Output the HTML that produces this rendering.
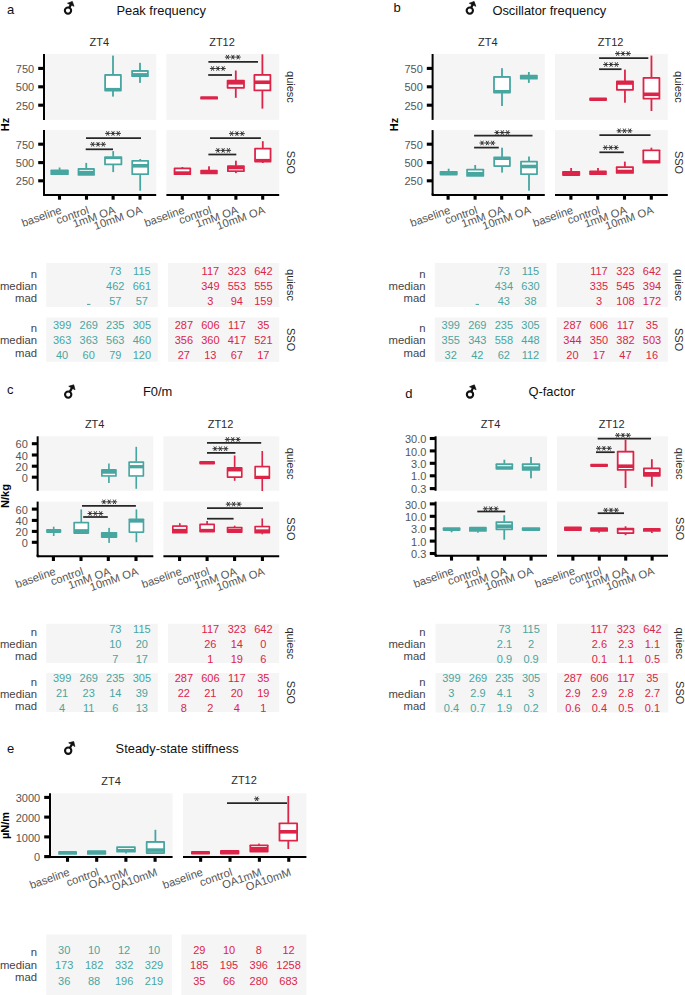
<!DOCTYPE html>
<html><head><meta charset="utf-8"><style>
html,body{margin:0;padding:0;background:#fff;}
svg{display:block;font-family:"Liberation Sans", sans-serif;}
</style></head><body>
<svg width="685" height="995" viewBox="0 0 685 995">
<rect x="0" y="0" width="685" height="995" fill="#ffffff"/>
<text x="7" y="14" font-size="13" fill="#111" text-anchor="start">a</text>
<circle cx="68" cy="10.6" r="3.15" fill="none" stroke="#111" stroke-width="2.1"/>
<line x1="69.35" y1="7.75" x2="71.1" y2="4.06" stroke="#111" stroke-width="2.3" stroke-linecap="butt"/>
<polygon points="72.34,1.44 74.01,6.33 67.5,3.24" fill="#111" stroke="#111" stroke-width="0.7" stroke-linejoin="round"/>
<text x="116.4" y="15" font-size="12.9" fill="#111" text-anchor="start">Peak frequency</text>
<text x="99.3" y="45.6" font-size="11" fill="#2b2b2b" text-anchor="middle">ZT4</text>
<text x="222" y="45.6" font-size="11" fill="#2b2b2b" text-anchor="middle">ZT12</text>
<text x="286.6" y="86.95" font-size="11" fill="#2b2b2b" text-anchor="middle" transform="rotate(90 286.6 86.95)">quiesc</text>
<text x="286.6" y="162.5" font-size="11" fill="#2b2b2b" text-anchor="middle" transform="rotate(90 286.6 162.5)">SSO</text>
<rect x="45.2" y="54" width="111" height="65.9" fill="#f5f5f5"/>
<rect x="166.4" y="54" width="112.8" height="65.9" fill="#f5f5f5"/>
<rect x="45.2" y="130.1" width="111" height="64.8" fill="#f5f5f5"/>
<rect x="166.4" y="130.1" width="112.8" height="64.8" fill="#f5f5f5"/>
<line x1="44" y1="54" x2="44" y2="119.9" stroke="#000" stroke-width="2" stroke-linecap="butt"/>
<line x1="38.2" y1="68.4" x2="44" y2="68.4" stroke="#000" stroke-width="3.1" stroke-linecap="butt"/>
<text x="34.2" y="73" font-size="11" fill="#555555" text-anchor="end">750</text>
<line x1="38.2" y1="86.8" x2="44" y2="86.8" stroke="#000" stroke-width="3.1" stroke-linecap="butt"/>
<text x="34.2" y="91.4" font-size="11" fill="#555555" text-anchor="end">500</text>
<line x1="38.2" y1="105.2" x2="44" y2="105.2" stroke="#000" stroke-width="3.1" stroke-linecap="butt"/>
<text x="34.2" y="109.8" font-size="11" fill="#555555" text-anchor="end">250</text>
<line x1="44" y1="130.1" x2="44" y2="194.4" stroke="#000" stroke-width="2" stroke-linecap="butt"/>
<line x1="44" y1="193.9" x2="44" y2="194.9" stroke="#000" stroke-width="2" stroke-linecap="round"/>
<line x1="38.2" y1="144.2" x2="44" y2="144.2" stroke="#000" stroke-width="3.1" stroke-linecap="butt"/>
<text x="34.2" y="148.8" font-size="11" fill="#555555" text-anchor="end">750</text>
<line x1="38.2" y1="162.6" x2="44" y2="162.6" stroke="#000" stroke-width="3.1" stroke-linecap="butt"/>
<text x="34.2" y="167.2" font-size="11" fill="#555555" text-anchor="end">500</text>
<line x1="38.2" y1="180.8" x2="44" y2="180.8" stroke="#000" stroke-width="3.1" stroke-linecap="butt"/>
<text x="34.2" y="185.4" font-size="11" fill="#555555" text-anchor="end">250</text>
<line x1="44.5" y1="194.9" x2="156.2" y2="194.9" stroke="#000" stroke-width="2" stroke-linecap="butt"/>
<line x1="44" y1="194.9" x2="45" y2="194.9" stroke="#000" stroke-width="2" stroke-linecap="round"/>
<line x1="59.5" y1="194.9" x2="59.5" y2="199.7" stroke="#000" stroke-width="3.1" stroke-linecap="butt"/>
<line x1="86.5" y1="194.9" x2="86.5" y2="199.7" stroke="#000" stroke-width="3.1" stroke-linecap="butt"/>
<line x1="113.1" y1="194.9" x2="113.1" y2="199.7" stroke="#000" stroke-width="3.1" stroke-linecap="butt"/>
<line x1="140" y1="194.9" x2="140" y2="199.7" stroke="#000" stroke-width="3.1" stroke-linecap="butt"/>
<text x="62.5" y="213.1" font-size="11.2" fill="#555555" text-anchor="end" transform="rotate(-19.5 62.5 213.1)">baseline</text>
<text x="89.5" y="213.1" font-size="11.2" fill="#555555" text-anchor="end" transform="rotate(-19.5 89.5 213.1)">control</text>
<text x="116.1" y="213.1" font-size="11.2" fill="#555555" text-anchor="end" transform="rotate(-19.5 116.1 213.1)">1mM OA</text>
<text x="143" y="213.1" font-size="11.2" fill="#555555" text-anchor="end" transform="rotate(-19.5 143 213.1)">10mM OA</text>
<line x1="166.4" y1="194.9" x2="279.2" y2="194.9" stroke="#000" stroke-width="2" stroke-linecap="butt"/>
<line x1="182.3" y1="194.9" x2="182.3" y2="199.7" stroke="#000" stroke-width="3.1" stroke-linecap="butt"/>
<line x1="209.1" y1="194.9" x2="209.1" y2="199.7" stroke="#000" stroke-width="3.1" stroke-linecap="butt"/>
<line x1="235.9" y1="194.9" x2="235.9" y2="199.7" stroke="#000" stroke-width="3.1" stroke-linecap="butt"/>
<line x1="262.7" y1="194.9" x2="262.7" y2="199.7" stroke="#000" stroke-width="3.1" stroke-linecap="butt"/>
<text x="185.3" y="213.1" font-size="11.2" fill="#555555" text-anchor="end" transform="rotate(-19.5 185.3 213.1)">baseline</text>
<text x="212.1" y="213.1" font-size="11.2" fill="#555555" text-anchor="end" transform="rotate(-19.5 212.1 213.1)">control</text>
<text x="238.9" y="213.1" font-size="11.2" fill="#555555" text-anchor="end" transform="rotate(-19.5 238.9 213.1)">1mM OA</text>
<text x="265.7" y="213.1" font-size="11.2" fill="#555555" text-anchor="end" transform="rotate(-19.5 265.7 213.1)">10mM OA</text>
<text x="8.9" y="124.5" font-size="11" fill="#000" text-anchor="middle" font-weight="bold" transform="rotate(-90 8.9 124.5)">Hz</text>
<rect x="112.1" y="55.6" width="1.8" height="19" fill="#48a6a1"/>
<rect x="112.1" y="91" width="1.8" height="5.6" fill="#48a6a1"/>
<rect x="104.2" y="74.1" width="17.6" height="17.4" rx="0.9" fill="#48a6a1"/>
<rect x="106" y="75.9" width="14" height="12" fill="#ffffff"/>
<rect x="139.1" y="62.8" width="1.8" height="7.8" fill="#48a6a1"/>
<rect x="139.1" y="76.6" width="1.8" height="6.3" fill="#48a6a1"/>
<rect x="131.2" y="70.1" width="17.6" height="7" rx="0.9" fill="#48a6a1"/>
<rect x="133" y="71.9" width="14" height="1.2" fill="#ffffff"/>
<rect x="200.2" y="96.2" width="17.8" height="3.4" rx="0.9" fill="#dc2449"/>
<rect x="234.9" y="70.5" width="1.8" height="9.8" fill="#dc2449"/>
<rect x="234.9" y="88.2" width="1.8" height="9.6" fill="#dc2449"/>
<rect x="226.7" y="79.8" width="18.2" height="8.9" rx="0.9" fill="#dc2449"/>
<rect x="228.5" y="84.6" width="14.6" height="2.3" fill="#ffffff"/>
<rect x="261.5" y="54.3" width="1.8" height="20.2" fill="#dc2449"/>
<rect x="261.5" y="90.8" width="1.8" height="17.8" fill="#dc2449"/>
<rect x="253.5" y="74" width="17.8" height="17.3" rx="0.9" fill="#dc2449"/>
<rect x="255.3" y="75.8" width="14.2" height="4.65" fill="#ffffff"/>
<rect x="255.3" y="84.05" width="14.2" height="5.45" fill="#ffffff"/>
<rect x="58.7" y="167.5" width="1.8" height="2.4" fill="#48a6a1"/>
<rect x="50.4" y="169.4" width="18.4" height="5.7" rx="0.9" fill="#48a6a1"/>
<rect x="85.35" y="162.9" width="1.8" height="5.7" fill="#48a6a1"/>
<rect x="77.6" y="168.1" width="17.3" height="7.7" rx="0.9" fill="#48a6a1"/>
<rect x="79.4" y="169.9" width="13.7" height="0.9" fill="#ffffff"/>
<rect x="112.3" y="151.1" width="1.8" height="5.6" fill="#48a6a1"/>
<rect x="112.3" y="164.8" width="1.8" height="7.3" fill="#48a6a1"/>
<rect x="104.1" y="156.2" width="18.2" height="9.1" rx="0.9" fill="#48a6a1"/>
<rect x="105.9" y="159.1" width="14.6" height="4.4" fill="#ffffff"/>
<rect x="139.3" y="159" width="1.8" height="1.4" fill="#48a6a1"/>
<rect x="139.3" y="174.6" width="1.8" height="16.1" fill="#48a6a1"/>
<rect x="131.35" y="159.9" width="17.7" height="15.2" rx="0.9" fill="#48a6a1"/>
<rect x="133.15" y="161.7" width="14.1" height="2.3" fill="#ffffff"/>
<rect x="133.15" y="167.6" width="14.1" height="5.7" fill="#ffffff"/>
<rect x="181.5" y="167" width="1.8" height="1" fill="#dc2449"/>
<rect x="173.65" y="167.5" width="17.5" height="7.6" rx="0.9" fill="#dc2449"/>
<rect x="175.45" y="169.3" width="13.9" height="2" fill="#ffffff"/>
<rect x="208.1" y="166.3" width="1.8" height="3.9" fill="#dc2449"/>
<rect x="200.25" y="169.7" width="17.5" height="4.6" rx="0.9" fill="#dc2449"/>
<rect x="235" y="160.7" width="1.8" height="5.1" fill="#dc2449"/>
<rect x="235" y="171.6" width="1.8" height="1.5" fill="#dc2449"/>
<rect x="227" y="165.3" width="17.8" height="6.8" rx="0.9" fill="#dc2449"/>
<rect x="228.8" y="169.3" width="14.2" height="1" fill="#ffffff"/>
<rect x="261.9" y="141.2" width="1.8" height="7" fill="#dc2449"/>
<rect x="261.9" y="161.9" width="1.8" height="1.1" fill="#dc2449"/>
<rect x="254.15" y="147.7" width="17.3" height="14.7" rx="0.9" fill="#dc2449"/>
<rect x="255.95" y="149.5" width="13.7" height="9.4" fill="#ffffff"/>
<line x1="208.4" y1="61.8" x2="258" y2="61.8" stroke="#262626" stroke-width="1.75" stroke-linecap="butt"/>
<path d="M224.95 57.1L230.15 57.1M226.25 54.85L228.85 59.35M228.85 54.85L226.25 59.35" stroke="#2e2e2e" stroke-width="0.95" fill="none"/>
<path d="M230.25 57.1L235.45 57.1M231.55 54.85L234.15 59.35M234.15 54.85L231.55 59.35" stroke="#2e2e2e" stroke-width="0.95" fill="none"/>
<path d="M235.55 57.1L240.75 57.1M236.85 54.85L239.45 59.35M239.45 54.85L236.85 59.35" stroke="#2e2e2e" stroke-width="0.95" fill="none"/>
<line x1="208.2" y1="75" x2="232" y2="75" stroke="#262626" stroke-width="1.75" stroke-linecap="butt"/>
<path d="M209.95 68.5L215.15 68.5M211.25 66.25L213.85 70.75M213.85 66.25L211.25 70.75" stroke="#2e2e2e" stroke-width="0.95" fill="none"/>
<path d="M215.25 68.5L220.45 68.5M216.55 66.25L219.15 70.75M219.15 66.25L216.55 70.75" stroke="#2e2e2e" stroke-width="0.95" fill="none"/>
<path d="M220.55 68.5L225.75 68.5M221.85 66.25L224.45 70.75M224.45 66.25L221.85 70.75" stroke="#2e2e2e" stroke-width="0.95" fill="none"/>
<line x1="86" y1="138.1" x2="141" y2="138.1" stroke="#262626" stroke-width="1.75" stroke-linecap="butt"/>
<path d="M105.1 133.45L110.3 133.45M106.4 131.2L109 135.7M109 131.2L106.4 135.7" stroke="#2e2e2e" stroke-width="0.95" fill="none"/>
<path d="M110.4 133.45L115.6 133.45M111.7 131.2L114.3 135.7M114.3 131.2L111.7 135.7" stroke="#2e2e2e" stroke-width="0.95" fill="none"/>
<path d="M115.7 133.45L120.9 133.45M117 131.2L119.6 135.7M119.6 131.2L117 135.7" stroke="#2e2e2e" stroke-width="0.95" fill="none"/>
<line x1="85.7" y1="149.3" x2="113" y2="149.3" stroke="#262626" stroke-width="1.75" stroke-linecap="butt"/>
<path d="M90.1 144.3L95.3 144.3M91.4 142.05L94 146.55M94 142.05L91.4 146.55" stroke="#2e2e2e" stroke-width="0.95" fill="none"/>
<path d="M95.4 144.3L100.6 144.3M96.7 142.05L99.3 146.55M99.3 142.05L96.7 146.55" stroke="#2e2e2e" stroke-width="0.95" fill="none"/>
<path d="M100.7 144.3L105.9 144.3M102 142.05L104.6 146.55M104.6 142.05L102 146.55" stroke="#2e2e2e" stroke-width="0.95" fill="none"/>
<line x1="210" y1="138.2" x2="260.9" y2="138.2" stroke="#262626" stroke-width="1.75" stroke-linecap="butt"/>
<path d="M229 133.6L234.2 133.6M230.3 131.35L232.9 135.85M232.9 131.35L230.3 135.85" stroke="#2e2e2e" stroke-width="0.95" fill="none"/>
<path d="M234.3 133.6L239.5 133.6M235.6 131.35L238.2 135.85M238.2 131.35L235.6 135.85" stroke="#2e2e2e" stroke-width="0.95" fill="none"/>
<path d="M239.6 133.6L244.8 133.6M240.9 131.35L243.5 135.85M243.5 131.35L240.9 135.85" stroke="#2e2e2e" stroke-width="0.95" fill="none"/>
<line x1="208.4" y1="154.5" x2="236.3" y2="154.5" stroke="#262626" stroke-width="1.75" stroke-linecap="butt"/>
<path d="M215.25 150.4L220.45 150.4M216.55 148.15L219.15 152.65M219.15 148.15L216.55 152.65" stroke="#2e2e2e" stroke-width="0.95" fill="none"/>
<path d="M220.55 150.4L225.75 150.4M221.85 148.15L224.45 152.65M224.45 148.15L221.85 152.65" stroke="#2e2e2e" stroke-width="0.95" fill="none"/>
<path d="M225.85 150.4L231.05 150.4M227.15 148.15L229.75 152.65M229.75 148.15L227.15 152.65" stroke="#2e2e2e" stroke-width="0.95" fill="none"/>
<rect x="46.2" y="263" width="111.6" height="44" fill="#f5f5f5"/>
<rect x="168" y="263" width="111.25" height="44" fill="#f5f5f5"/>
<rect x="46.2" y="317.5" width="111.6" height="44.25" fill="#f5f5f5"/>
<rect x="168" y="317.5" width="111.25" height="44.25" fill="#f5f5f5"/>
<text x="37" y="277.5" font-size="11.3" fill="#444" text-anchor="end">n</text>
<text x="37" y="289.8" font-size="11.3" fill="#444" text-anchor="end">median</text>
<text x="37" y="301.6" font-size="11.3" fill="#444" text-anchor="end">mad</text>
<text x="37" y="332" font-size="11.3" fill="#444" text-anchor="end">n</text>
<text x="37" y="344.3" font-size="11.3" fill="#444" text-anchor="end">median</text>
<text x="37" y="356.6" font-size="11.3" fill="#444" text-anchor="end">mad</text>
<text x="115.29" y="274.5" font-size="11" fill="#48a6a1" text-anchor="middle">73</text>
<text x="141.86" y="274.5" font-size="11" fill="#48a6a1" text-anchor="middle">115</text>
<text x="115.29" y="289.5" font-size="11" fill="#48a6a1" text-anchor="middle">462</text>
<text x="141.86" y="289.5" font-size="11" fill="#48a6a1" text-anchor="middle">661</text>
<text x="115.29" y="304.5" font-size="11" fill="#48a6a1" text-anchor="middle">57</text>
<text x="141.86" y="304.5" font-size="11" fill="#48a6a1" text-anchor="middle">57</text>
<text x="62.14" y="329" font-size="11" fill="#48a6a1" text-anchor="middle">399</text>
<text x="88.71" y="329" font-size="11" fill="#48a6a1" text-anchor="middle">269</text>
<text x="115.29" y="329" font-size="11" fill="#48a6a1" text-anchor="middle">235</text>
<text x="141.86" y="329" font-size="11" fill="#48a6a1" text-anchor="middle">305</text>
<text x="62.14" y="344" font-size="11" fill="#48a6a1" text-anchor="middle">363</text>
<text x="88.71" y="344" font-size="11" fill="#48a6a1" text-anchor="middle">363</text>
<text x="115.29" y="344" font-size="11" fill="#48a6a1" text-anchor="middle">563</text>
<text x="141.86" y="344" font-size="11" fill="#48a6a1" text-anchor="middle">460</text>
<text x="62.14" y="359" font-size="11" fill="#48a6a1" text-anchor="middle">40</text>
<text x="88.71" y="359" font-size="11" fill="#48a6a1" text-anchor="middle">60</text>
<text x="115.29" y="359" font-size="11" fill="#48a6a1" text-anchor="middle">79</text>
<text x="141.86" y="359" font-size="11" fill="#48a6a1" text-anchor="middle">120</text>
<text x="210.38" y="274.5" font-size="11" fill="#dc2449" text-anchor="middle">117</text>
<text x="236.87" y="274.5" font-size="11" fill="#dc2449" text-anchor="middle">323</text>
<text x="263.36" y="274.5" font-size="11" fill="#dc2449" text-anchor="middle">642</text>
<text x="210.38" y="289.5" font-size="11" fill="#dc2449" text-anchor="middle">349</text>
<text x="236.87" y="289.5" font-size="11" fill="#dc2449" text-anchor="middle">553</text>
<text x="263.36" y="289.5" font-size="11" fill="#dc2449" text-anchor="middle">555</text>
<text x="210.38" y="304.5" font-size="11" fill="#dc2449" text-anchor="middle">3</text>
<text x="236.87" y="304.5" font-size="11" fill="#dc2449" text-anchor="middle">94</text>
<text x="263.36" y="304.5" font-size="11" fill="#dc2449" text-anchor="middle">159</text>
<text x="183.89" y="329" font-size="11" fill="#dc2449" text-anchor="middle">287</text>
<text x="210.38" y="329" font-size="11" fill="#dc2449" text-anchor="middle">606</text>
<text x="236.87" y="329" font-size="11" fill="#dc2449" text-anchor="middle">117</text>
<text x="263.36" y="329" font-size="11" fill="#dc2449" text-anchor="middle">35</text>
<text x="183.89" y="344" font-size="11" fill="#dc2449" text-anchor="middle">356</text>
<text x="210.38" y="344" font-size="11" fill="#dc2449" text-anchor="middle">360</text>
<text x="236.87" y="344" font-size="11" fill="#dc2449" text-anchor="middle">417</text>
<text x="263.36" y="344" font-size="11" fill="#dc2449" text-anchor="middle">521</text>
<text x="183.89" y="359" font-size="11" fill="#dc2449" text-anchor="middle">27</text>
<text x="210.38" y="359" font-size="11" fill="#dc2449" text-anchor="middle">13</text>
<text x="236.87" y="359" font-size="11" fill="#dc2449" text-anchor="middle">67</text>
<text x="263.36" y="359" font-size="11" fill="#dc2449" text-anchor="middle">17</text>
<text x="286.6" y="285" font-size="11" fill="#2b2b2b" text-anchor="middle" transform="rotate(90 286.6 285)">quiesc</text>
<text x="286.6" y="339.62" font-size="11" fill="#2b2b2b" text-anchor="middle" transform="rotate(90 286.6 339.62)">SSO</text>
<rect x="87.01" y="303.9" width="3.4" height="1" fill="#48a6a1"/>
<text x="393.4" y="12.3" font-size="13" fill="#111" text-anchor="start">b</text>
<circle cx="469.8" cy="10.6" r="3.15" fill="none" stroke="#111" stroke-width="2.1"/>
<line x1="471.15" y1="7.75" x2="472.9" y2="4.06" stroke="#111" stroke-width="2.3" stroke-linecap="butt"/>
<polygon points="474.14,1.44 475.81,6.33 469.3,3.24" fill="#111" stroke="#111" stroke-width="0.7" stroke-linejoin="round"/>
<text x="492.4" y="15" font-size="12.9" fill="#111" text-anchor="start">Oscillator frequency</text>
<text x="487.9" y="45.6" font-size="11" fill="#2b2b2b" text-anchor="middle">ZT4</text>
<text x="610.6" y="45.6" font-size="11" fill="#2b2b2b" text-anchor="middle">ZT12</text>
<text x="675.2" y="86.95" font-size="11" fill="#2b2b2b" text-anchor="middle" transform="rotate(90 675.2 86.95)">quiesc</text>
<text x="675.2" y="162.5" font-size="11" fill="#2b2b2b" text-anchor="middle" transform="rotate(90 675.2 162.5)">SSO</text>
<rect x="433.8" y="54" width="111" height="65.9" fill="#f5f5f5"/>
<rect x="555" y="54" width="112.8" height="65.9" fill="#f5f5f5"/>
<rect x="433.8" y="130.1" width="111" height="64.8" fill="#f5f5f5"/>
<rect x="555" y="130.1" width="112.8" height="64.8" fill="#f5f5f5"/>
<line x1="432.6" y1="54" x2="432.6" y2="119.9" stroke="#000" stroke-width="2" stroke-linecap="butt"/>
<line x1="426.8" y1="68.4" x2="432.6" y2="68.4" stroke="#000" stroke-width="3.1" stroke-linecap="butt"/>
<text x="422.8" y="73" font-size="11" fill="#555555" text-anchor="end">750</text>
<line x1="426.8" y1="86.8" x2="432.6" y2="86.8" stroke="#000" stroke-width="3.1" stroke-linecap="butt"/>
<text x="422.8" y="91.4" font-size="11" fill="#555555" text-anchor="end">500</text>
<line x1="426.8" y1="105.2" x2="432.6" y2="105.2" stroke="#000" stroke-width="3.1" stroke-linecap="butt"/>
<text x="422.8" y="109.8" font-size="11" fill="#555555" text-anchor="end">250</text>
<line x1="432.6" y1="130.1" x2="432.6" y2="194.4" stroke="#000" stroke-width="2" stroke-linecap="butt"/>
<line x1="432.6" y1="193.9" x2="432.6" y2="194.9" stroke="#000" stroke-width="2" stroke-linecap="round"/>
<line x1="426.8" y1="144.2" x2="432.6" y2="144.2" stroke="#000" stroke-width="3.1" stroke-linecap="butt"/>
<text x="422.8" y="148.8" font-size="11" fill="#555555" text-anchor="end">750</text>
<line x1="426.8" y1="162.6" x2="432.6" y2="162.6" stroke="#000" stroke-width="3.1" stroke-linecap="butt"/>
<text x="422.8" y="167.2" font-size="11" fill="#555555" text-anchor="end">500</text>
<line x1="426.8" y1="180.8" x2="432.6" y2="180.8" stroke="#000" stroke-width="3.1" stroke-linecap="butt"/>
<text x="422.8" y="185.4" font-size="11" fill="#555555" text-anchor="end">250</text>
<line x1="433.1" y1="194.9" x2="544.8" y2="194.9" stroke="#000" stroke-width="2" stroke-linecap="butt"/>
<line x1="432.6" y1="194.9" x2="433.6" y2="194.9" stroke="#000" stroke-width="2" stroke-linecap="round"/>
<line x1="448.1" y1="194.9" x2="448.1" y2="199.7" stroke="#000" stroke-width="3.1" stroke-linecap="butt"/>
<line x1="475.1" y1="194.9" x2="475.1" y2="199.7" stroke="#000" stroke-width="3.1" stroke-linecap="butt"/>
<line x1="501.7" y1="194.9" x2="501.7" y2="199.7" stroke="#000" stroke-width="3.1" stroke-linecap="butt"/>
<line x1="528.6" y1="194.9" x2="528.6" y2="199.7" stroke="#000" stroke-width="3.1" stroke-linecap="butt"/>
<text x="451.1" y="213.1" font-size="11.2" fill="#555555" text-anchor="end" transform="rotate(-19.5 451.1 213.1)">baseline</text>
<text x="478.1" y="213.1" font-size="11.2" fill="#555555" text-anchor="end" transform="rotate(-19.5 478.1 213.1)">control</text>
<text x="504.7" y="213.1" font-size="11.2" fill="#555555" text-anchor="end" transform="rotate(-19.5 504.7 213.1)">1mM OA</text>
<text x="531.6" y="213.1" font-size="11.2" fill="#555555" text-anchor="end" transform="rotate(-19.5 531.6 213.1)">10mM OA</text>
<line x1="555" y1="194.9" x2="667.8" y2="194.9" stroke="#000" stroke-width="2" stroke-linecap="butt"/>
<line x1="570.9" y1="194.9" x2="570.9" y2="199.7" stroke="#000" stroke-width="3.1" stroke-linecap="butt"/>
<line x1="597.7" y1="194.9" x2="597.7" y2="199.7" stroke="#000" stroke-width="3.1" stroke-linecap="butt"/>
<line x1="624.5" y1="194.9" x2="624.5" y2="199.7" stroke="#000" stroke-width="3.1" stroke-linecap="butt"/>
<line x1="651.3" y1="194.9" x2="651.3" y2="199.7" stroke="#000" stroke-width="3.1" stroke-linecap="butt"/>
<text x="573.9" y="213.1" font-size="11.2" fill="#555555" text-anchor="end" transform="rotate(-19.5 573.9 213.1)">baseline</text>
<text x="600.7" y="213.1" font-size="11.2" fill="#555555" text-anchor="end" transform="rotate(-19.5 600.7 213.1)">control</text>
<text x="627.5" y="213.1" font-size="11.2" fill="#555555" text-anchor="end" transform="rotate(-19.5 627.5 213.1)">1mM OA</text>
<text x="654.3" y="213.1" font-size="11.2" fill="#555555" text-anchor="end" transform="rotate(-19.5 654.3 213.1)">10mM OA</text>
<text x="397.5" y="124.5" font-size="11" fill="#000" text-anchor="middle" font-weight="bold" transform="rotate(-90 397.5 124.5)">Hz</text>
<rect x="501.1" y="68.2" width="1.8" height="8.4" fill="#48a6a1"/>
<rect x="501.1" y="92.9" width="1.8" height="13.1" fill="#48a6a1"/>
<rect x="493.1" y="76.1" width="17.8" height="17.3" rx="0.9" fill="#48a6a1"/>
<rect x="494.9" y="77.9" width="14.2" height="12.1" fill="#ffffff"/>
<rect x="527.95" y="72" width="1.8" height="3.2" fill="#48a6a1"/>
<rect x="527.95" y="79.1" width="1.8" height="3.8" fill="#48a6a1"/>
<rect x="519.9" y="74.7" width="17.9" height="4.9" rx="0.9" fill="#48a6a1"/>
<rect x="589.2" y="97.5" width="17.8" height="3.4" rx="0.9" fill="#dc2449"/>
<rect x="624.05" y="69.6" width="1.8" height="11.3" fill="#dc2449"/>
<rect x="624.05" y="90.2" width="1.8" height="12.5" fill="#dc2449"/>
<rect x="616" y="80.4" width="17.9" height="10.3" rx="0.9" fill="#dc2449"/>
<rect x="617.8" y="84.8" width="14.3" height="4.1" fill="#ffffff"/>
<rect x="650.55" y="55.6" width="1.8" height="21.9" fill="#dc2449"/>
<rect x="650.55" y="99.1" width="1.8" height="11.9" fill="#dc2449"/>
<rect x="642.6" y="77" width="17.7" height="22.6" rx="0.9" fill="#dc2449"/>
<rect x="644.4" y="78.8" width="14.1" height="13.7" fill="#ffffff"/>
<rect x="644.4" y="96.1" width="14.1" height="1.7" fill="#ffffff"/>
<rect x="447.75" y="168.7" width="1.8" height="2.7" fill="#48a6a1"/>
<rect x="439.6" y="170.9" width="18.1" height="4.6" rx="0.9" fill="#48a6a1"/>
<rect x="474.3" y="165" width="1.8" height="4.2" fill="#48a6a1"/>
<rect x="466.2" y="168.7" width="18" height="8.1" rx="0.9" fill="#48a6a1"/>
<rect x="468" y="170.5" width="14.4" height="1.5" fill="#ffffff"/>
<rect x="501.15" y="147.7" width="1.8" height="9.3" fill="#48a6a1"/>
<rect x="501.15" y="166.5" width="1.8" height="6.1" fill="#48a6a1"/>
<rect x="493.3" y="156.5" width="17.5" height="10.5" rx="0.9" fill="#48a6a1"/>
<rect x="495.1" y="160" width="13.9" height="5.2" fill="#ffffff"/>
<rect x="528.1" y="156.5" width="1.8" height="4.7" fill="#48a6a1"/>
<rect x="528.1" y="174.6" width="1.8" height="16.1" fill="#48a6a1"/>
<rect x="520.1" y="160.7" width="17.8" height="14.4" rx="0.9" fill="#48a6a1"/>
<rect x="521.9" y="162.5" width="14.2" height="2.2" fill="#ffffff"/>
<rect x="521.9" y="168.3" width="14.2" height="5" fill="#ffffff"/>
<rect x="570.25" y="168" width="1.8" height="3.4" fill="#dc2449"/>
<rect x="562.1" y="170.9" width="18.1" height="5.1" rx="0.9" fill="#dc2449"/>
<rect x="597.1" y="168" width="1.8" height="2.9" fill="#dc2449"/>
<rect x="589.2" y="170.4" width="17.6" height="4.7" rx="0.9" fill="#dc2449"/>
<rect x="623.95" y="161.6" width="1.8" height="5.2" fill="#dc2449"/>
<rect x="615.8" y="166.3" width="18.1" height="7.5" rx="0.9" fill="#dc2449"/>
<rect x="617.6" y="168.1" width="14.5" height="1.6" fill="#ffffff"/>
<rect x="650.5" y="147.7" width="1.8" height="2.2" fill="#dc2449"/>
<rect x="642.4" y="149.4" width="18" height="14.2" rx="0.9" fill="#dc2449"/>
<rect x="644.2" y="151.2" width="14.4" height="8.9" fill="#ffffff"/>
<line x1="599.1" y1="58.1" x2="648.3" y2="58.1" stroke="#262626" stroke-width="1.75" stroke-linecap="butt"/>
<path d="M615.05 53.55L620.25 53.55M616.35 51.3L618.95 55.8M618.95 51.3L616.35 55.8" stroke="#2e2e2e" stroke-width="0.95" fill="none"/>
<path d="M620.35 53.55L625.55 53.55M621.65 51.3L624.25 55.8M624.25 51.3L621.65 55.8" stroke="#2e2e2e" stroke-width="0.95" fill="none"/>
<path d="M625.65 53.55L630.85 53.55M626.95 51.3L629.55 55.8M629.55 51.3L626.95 55.8" stroke="#2e2e2e" stroke-width="0.95" fill="none"/>
<line x1="599.1" y1="69.2" x2="621.5" y2="69.2" stroke="#262626" stroke-width="1.75" stroke-linecap="butt"/>
<path d="M603.2 64.5L608.4 64.5M604.5 62.25L607.1 66.75M607.1 62.25L604.5 66.75" stroke="#2e2e2e" stroke-width="0.95" fill="none"/>
<path d="M608.5 64.5L613.7 64.5M609.8 62.25L612.4 66.75M612.4 62.25L609.8 66.75" stroke="#2e2e2e" stroke-width="0.95" fill="none"/>
<path d="M613.8 64.5L619 64.5M615.1 62.25L617.7 66.75M617.7 62.25L615.1 66.75" stroke="#2e2e2e" stroke-width="0.95" fill="none"/>
<line x1="474.1" y1="135.7" x2="532.5" y2="135.7" stroke="#262626" stroke-width="1.75" stroke-linecap="butt"/>
<path d="M494.4 132.55L499.6 132.55M495.7 130.3L498.3 134.8M498.3 130.3L495.7 134.8" stroke="#2e2e2e" stroke-width="0.95" fill="none"/>
<path d="M499.7 132.55L504.9 132.55M501 130.3L503.6 134.8M503.6 130.3L501 134.8" stroke="#2e2e2e" stroke-width="0.95" fill="none"/>
<path d="M505 132.55L510.2 132.55M506.3 130.3L508.9 134.8M508.9 130.3L506.3 134.8" stroke="#2e2e2e" stroke-width="0.95" fill="none"/>
<line x1="474.1" y1="147.6" x2="498.8" y2="147.6" stroke="#262626" stroke-width="1.75" stroke-linecap="butt"/>
<path d="M479.45 143L484.65 143M480.75 140.75L483.35 145.25M483.35 140.75L480.75 145.25" stroke="#2e2e2e" stroke-width="0.95" fill="none"/>
<path d="M484.75 143L489.95 143M486.05 140.75L488.65 145.25M488.65 140.75L486.05 145.25" stroke="#2e2e2e" stroke-width="0.95" fill="none"/>
<path d="M490.05 143L495.25 143M491.35 140.75L493.95 145.25M493.95 140.75L491.35 145.25" stroke="#2e2e2e" stroke-width="0.95" fill="none"/>
<line x1="599.4" y1="135.2" x2="650.5" y2="135.2" stroke="#262626" stroke-width="1.75" stroke-linecap="butt"/>
<path d="M616.55 130.8L621.75 130.8M617.85 128.55L620.45 133.05M620.45 128.55L617.85 133.05" stroke="#2e2e2e" stroke-width="0.95" fill="none"/>
<path d="M621.85 130.8L627.05 130.8M623.15 128.55L625.75 133.05M625.75 128.55L623.15 133.05" stroke="#2e2e2e" stroke-width="0.95" fill="none"/>
<path d="M627.15 130.8L632.35 130.8M628.45 128.55L631.05 133.05M631.05 128.55L628.45 133.05" stroke="#2e2e2e" stroke-width="0.95" fill="none"/>
<line x1="599.4" y1="152.3" x2="623.8" y2="152.3" stroke="#262626" stroke-width="1.75" stroke-linecap="butt"/>
<path d="M602.85 147.6L608.05 147.6M604.15 145.35L606.75 149.85M606.75 145.35L604.15 149.85" stroke="#2e2e2e" stroke-width="0.95" fill="none"/>
<path d="M608.15 147.6L613.35 147.6M609.45 145.35L612.05 149.85M612.05 145.35L609.45 149.85" stroke="#2e2e2e" stroke-width="0.95" fill="none"/>
<path d="M613.45 147.6L618.65 147.6M614.75 145.35L617.35 149.85M617.35 145.35L614.75 149.85" stroke="#2e2e2e" stroke-width="0.95" fill="none"/>
<rect x="434.8" y="263" width="111.6" height="44" fill="#f5f5f5"/>
<rect x="556.6" y="263" width="111.25" height="44" fill="#f5f5f5"/>
<rect x="434.8" y="317.5" width="111.6" height="44.25" fill="#f5f5f5"/>
<rect x="556.6" y="317.5" width="111.25" height="44.25" fill="#f5f5f5"/>
<text x="425.6" y="277.5" font-size="11.3" fill="#444" text-anchor="end">n</text>
<text x="425.6" y="289.8" font-size="11.3" fill="#444" text-anchor="end">median</text>
<text x="425.6" y="301.6" font-size="11.3" fill="#444" text-anchor="end">mad</text>
<text x="425.6" y="332" font-size="11.3" fill="#444" text-anchor="end">n</text>
<text x="425.6" y="344.3" font-size="11.3" fill="#444" text-anchor="end">median</text>
<text x="425.6" y="356.6" font-size="11.3" fill="#444" text-anchor="end">mad</text>
<text x="503.89" y="274.5" font-size="11" fill="#48a6a1" text-anchor="middle">73</text>
<text x="530.46" y="274.5" font-size="11" fill="#48a6a1" text-anchor="middle">115</text>
<text x="503.89" y="289.5" font-size="11" fill="#48a6a1" text-anchor="middle">434</text>
<text x="530.46" y="289.5" font-size="11" fill="#48a6a1" text-anchor="middle">630</text>
<text x="503.89" y="304.5" font-size="11" fill="#48a6a1" text-anchor="middle">43</text>
<text x="530.46" y="304.5" font-size="11" fill="#48a6a1" text-anchor="middle">38</text>
<text x="450.74" y="329" font-size="11" fill="#48a6a1" text-anchor="middle">399</text>
<text x="477.31" y="329" font-size="11" fill="#48a6a1" text-anchor="middle">269</text>
<text x="503.89" y="329" font-size="11" fill="#48a6a1" text-anchor="middle">235</text>
<text x="530.46" y="329" font-size="11" fill="#48a6a1" text-anchor="middle">305</text>
<text x="450.74" y="344" font-size="11" fill="#48a6a1" text-anchor="middle">355</text>
<text x="477.31" y="344" font-size="11" fill="#48a6a1" text-anchor="middle">343</text>
<text x="503.89" y="344" font-size="11" fill="#48a6a1" text-anchor="middle">558</text>
<text x="530.46" y="344" font-size="11" fill="#48a6a1" text-anchor="middle">448</text>
<text x="450.74" y="359" font-size="11" fill="#48a6a1" text-anchor="middle">32</text>
<text x="477.31" y="359" font-size="11" fill="#48a6a1" text-anchor="middle">42</text>
<text x="503.89" y="359" font-size="11" fill="#48a6a1" text-anchor="middle">62</text>
<text x="530.46" y="359" font-size="11" fill="#48a6a1" text-anchor="middle">112</text>
<text x="598.98" y="274.5" font-size="11" fill="#dc2449" text-anchor="middle">117</text>
<text x="625.47" y="274.5" font-size="11" fill="#dc2449" text-anchor="middle">323</text>
<text x="651.96" y="274.5" font-size="11" fill="#dc2449" text-anchor="middle">642</text>
<text x="598.98" y="289.5" font-size="11" fill="#dc2449" text-anchor="middle">335</text>
<text x="625.47" y="289.5" font-size="11" fill="#dc2449" text-anchor="middle">545</text>
<text x="651.96" y="289.5" font-size="11" fill="#dc2449" text-anchor="middle">394</text>
<text x="598.98" y="304.5" font-size="11" fill="#dc2449" text-anchor="middle">3</text>
<text x="625.47" y="304.5" font-size="11" fill="#dc2449" text-anchor="middle">108</text>
<text x="651.96" y="304.5" font-size="11" fill="#dc2449" text-anchor="middle">172</text>
<text x="572.49" y="329" font-size="11" fill="#dc2449" text-anchor="middle">287</text>
<text x="598.98" y="329" font-size="11" fill="#dc2449" text-anchor="middle">606</text>
<text x="625.47" y="329" font-size="11" fill="#dc2449" text-anchor="middle">117</text>
<text x="651.96" y="329" font-size="11" fill="#dc2449" text-anchor="middle">35</text>
<text x="572.49" y="344" font-size="11" fill="#dc2449" text-anchor="middle">344</text>
<text x="598.98" y="344" font-size="11" fill="#dc2449" text-anchor="middle">350</text>
<text x="625.47" y="344" font-size="11" fill="#dc2449" text-anchor="middle">382</text>
<text x="651.96" y="344" font-size="11" fill="#dc2449" text-anchor="middle">503</text>
<text x="572.49" y="359" font-size="11" fill="#dc2449" text-anchor="middle">20</text>
<text x="598.98" y="359" font-size="11" fill="#dc2449" text-anchor="middle">17</text>
<text x="625.47" y="359" font-size="11" fill="#dc2449" text-anchor="middle">47</text>
<text x="651.96" y="359" font-size="11" fill="#dc2449" text-anchor="middle">16</text>
<text x="675.2" y="285" font-size="11" fill="#2b2b2b" text-anchor="middle" transform="rotate(90 675.2 285)">quiesc</text>
<text x="675.2" y="339.62" font-size="11" fill="#2b2b2b" text-anchor="middle" transform="rotate(90 675.2 339.62)">SSO</text>
<rect x="475.61" y="303.9" width="3.4" height="1" fill="#48a6a1"/>
<text x="7" y="393.9" font-size="13" fill="#111" text-anchor="start">c</text>
<circle cx="68.2" cy="394.6" r="3.15" fill="none" stroke="#111" stroke-width="2.1"/>
<line x1="69.75" y1="391.86" x2="72.28" y2="387.35" stroke="#111" stroke-width="2.3" stroke-linecap="butt"/>
<polygon points="73.71,384.82 75.03,389.81 68.75,386.28" fill="#111" stroke="#111" stroke-width="0.7" stroke-linejoin="round"/>
<text x="143" y="396.2" font-size="12.9" fill="#111" text-anchor="start">F0/m</text>
<text x="94.68" y="428" font-size="11" fill="#2b2b2b" text-anchor="middle">ZT4</text>
<text x="220.5" y="428" font-size="11" fill="#2b2b2b" text-anchor="middle">ZT12</text>
<text x="286.6" y="463.55" font-size="11" fill="#2b2b2b" text-anchor="middle" transform="rotate(90 286.6 463.55)">quiesc</text>
<text x="286.6" y="528.9" font-size="11" fill="#2b2b2b" text-anchor="middle" transform="rotate(90 286.6 528.9)">SSO</text>
<rect x="38.85" y="436.3" width="114.45" height="54.5" fill="#f5f5f5"/>
<rect x="163.4" y="436.3" width="115.8" height="54.5" fill="#f5f5f5"/>
<rect x="38.85" y="501.6" width="114.45" height="54.6" fill="#f5f5f5"/>
<rect x="163.4" y="501.6" width="115.8" height="54.6" fill="#f5f5f5"/>
<line x1="37.65" y1="436.3" x2="37.65" y2="490.8" stroke="#000" stroke-width="2" stroke-linecap="butt"/>
<line x1="31.85" y1="443.7" x2="37.65" y2="443.7" stroke="#000" stroke-width="3.1" stroke-linecap="butt"/>
<text x="27.8" y="448.3" font-size="11" fill="#555555" text-anchor="end">60</text>
<line x1="31.85" y1="455" x2="37.65" y2="455" stroke="#000" stroke-width="3.1" stroke-linecap="butt"/>
<text x="27.8" y="459.6" font-size="11" fill="#555555" text-anchor="end">40</text>
<line x1="31.85" y1="466.2" x2="37.65" y2="466.2" stroke="#000" stroke-width="3.1" stroke-linecap="butt"/>
<text x="27.8" y="470.8" font-size="11" fill="#555555" text-anchor="end">20</text>
<line x1="31.85" y1="477.2" x2="37.65" y2="477.2" stroke="#000" stroke-width="3.1" stroke-linecap="butt"/>
<text x="27.8" y="481.8" font-size="11" fill="#555555" text-anchor="end">0</text>
<line x1="37.65" y1="501.6" x2="37.65" y2="555.7" stroke="#000" stroke-width="2" stroke-linecap="butt"/>
<line x1="37.65" y1="555.2" x2="37.65" y2="556.2" stroke="#000" stroke-width="2" stroke-linecap="round"/>
<line x1="31.85" y1="509.1" x2="37.65" y2="509.1" stroke="#000" stroke-width="3.1" stroke-linecap="butt"/>
<text x="27.8" y="513.7" font-size="11" fill="#555555" text-anchor="end">60</text>
<line x1="31.85" y1="520.4" x2="37.65" y2="520.4" stroke="#000" stroke-width="3.1" stroke-linecap="butt"/>
<text x="27.8" y="525" font-size="11" fill="#555555" text-anchor="end">40</text>
<line x1="31.85" y1="531.4" x2="37.65" y2="531.4" stroke="#000" stroke-width="3.1" stroke-linecap="butt"/>
<text x="27.8" y="536" font-size="11" fill="#555555" text-anchor="end">20</text>
<line x1="31.85" y1="542.3" x2="37.65" y2="542.3" stroke="#000" stroke-width="3.1" stroke-linecap="butt"/>
<text x="27.8" y="546.9" font-size="11" fill="#555555" text-anchor="end">0</text>
<line x1="38.15" y1="556.2" x2="153.3" y2="556.2" stroke="#000" stroke-width="2" stroke-linecap="butt"/>
<line x1="37.65" y1="556.2" x2="38.65" y2="556.2" stroke="#000" stroke-width="2" stroke-linecap="round"/>
<line x1="53.4" y1="556.2" x2="53.4" y2="561" stroke="#000" stroke-width="3.1" stroke-linecap="butt"/>
<line x1="81" y1="556.2" x2="81" y2="561" stroke="#000" stroke-width="3.1" stroke-linecap="butt"/>
<line x1="108.3" y1="556.2" x2="108.3" y2="561" stroke="#000" stroke-width="3.1" stroke-linecap="butt"/>
<line x1="136" y1="556.2" x2="136" y2="561" stroke="#000" stroke-width="3.1" stroke-linecap="butt"/>
<text x="56.4" y="574.4" font-size="11.2" fill="#555555" text-anchor="end" transform="rotate(-19.5 56.4 574.4)">baseline</text>
<text x="84" y="574.4" font-size="11.2" fill="#555555" text-anchor="end" transform="rotate(-19.5 84 574.4)">control</text>
<text x="111.3" y="574.4" font-size="11.2" fill="#555555" text-anchor="end" transform="rotate(-19.5 111.3 574.4)">1mM OA</text>
<text x="139" y="574.4" font-size="11.2" fill="#555555" text-anchor="end" transform="rotate(-19.5 139 574.4)">10mM OA</text>
<line x1="163.4" y1="556.2" x2="279.2" y2="556.2" stroke="#000" stroke-width="2" stroke-linecap="butt"/>
<line x1="179.6" y1="556.2" x2="179.6" y2="561" stroke="#000" stroke-width="3.1" stroke-linecap="butt"/>
<line x1="207.1" y1="556.2" x2="207.1" y2="561" stroke="#000" stroke-width="3.1" stroke-linecap="butt"/>
<line x1="234.6" y1="556.2" x2="234.6" y2="561" stroke="#000" stroke-width="3.1" stroke-linecap="butt"/>
<line x1="262.4" y1="556.2" x2="262.4" y2="561" stroke="#000" stroke-width="3.1" stroke-linecap="butt"/>
<text x="182.6" y="574.4" font-size="11.2" fill="#555555" text-anchor="end" transform="rotate(-19.5 182.6 574.4)">baseline</text>
<text x="210.1" y="574.4" font-size="11.2" fill="#555555" text-anchor="end" transform="rotate(-19.5 210.1 574.4)">control</text>
<text x="237.6" y="574.4" font-size="11.2" fill="#555555" text-anchor="end" transform="rotate(-19.5 237.6 574.4)">1mM OA</text>
<text x="265.4" y="574.4" font-size="11.2" fill="#555555" text-anchor="end" transform="rotate(-19.5 265.4 574.4)">10mM OA</text>
<text x="8.9" y="496" font-size="11" fill="#000" text-anchor="middle" font-weight="bold" transform="rotate(-90 8.9 496)">N/kg</text>
<rect x="108.08" y="463.5" width="1.65" height="5.9" fill="#48a6a1"/>
<rect x="108.08" y="476.3" width="1.65" height="6.7" fill="#48a6a1"/>
<rect x="101" y="468.9" width="15.8" height="7.9" rx="0.9" fill="#48a6a1"/>
<rect x="102.65" y="473.75" width="12.5" height="1.4" fill="#ffffff"/>
<rect x="135.43" y="446.8" width="1.65" height="15" fill="#48a6a1"/>
<rect x="135.43" y="476.3" width="1.65" height="12.5" fill="#48a6a1"/>
<rect x="128.3" y="461.3" width="15.9" height="15.5" rx="0.9" fill="#48a6a1"/>
<rect x="129.95" y="462.95" width="12.6" height="2.1" fill="#ffffff"/>
<rect x="129.95" y="468.35" width="12.6" height="6.8" fill="#ffffff"/>
<rect x="199.2" y="461" width="15.8" height="3.5" rx="0.9" fill="#dc2449"/>
<rect x="233.83" y="455.5" width="1.65" height="12" fill="#dc2449"/>
<rect x="233.83" y="477.4" width="1.65" height="3.4" fill="#dc2449"/>
<rect x="226.7" y="467" width="15.9" height="10.9" rx="0.9" fill="#dc2449"/>
<rect x="228.35" y="471.45" width="12.6" height="4.8" fill="#ffffff"/>
<rect x="261.43" y="451" width="1.65" height="15.3" fill="#dc2449"/>
<rect x="261.43" y="478.6" width="1.65" height="12.4" fill="#dc2449"/>
<rect x="254.3" y="465.8" width="15.9" height="13.3" rx="0.9" fill="#dc2449"/>
<rect x="255.95" y="467.45" width="12.6" height="8.3" fill="#ffffff"/>
<rect x="52.88" y="526.7" width="1.65" height="2.9" fill="#48a6a1"/>
<rect x="52.88" y="532.5" width="1.65" height="3.5" fill="#48a6a1"/>
<rect x="46.1" y="529.1" width="15.2" height="3.9" rx="0.9" fill="#48a6a1"/>
<rect x="80.42" y="509.4" width="1.65" height="12.9" fill="#48a6a1"/>
<rect x="73.3" y="521.8" width="15.9" height="12.1" rx="0.9" fill="#48a6a1"/>
<rect x="74.95" y="523.45" width="12.6" height="5.7" fill="#ffffff"/>
<rect x="108.27" y="527.9" width="1.65" height="4.5" fill="#48a6a1"/>
<rect x="108.27" y="537.4" width="1.65" height="5.5" fill="#48a6a1"/>
<rect x="100.9" y="531.9" width="16.4" height="6" rx="0.9" fill="#48a6a1"/>
<rect x="135.58" y="509.4" width="1.65" height="9.5" fill="#48a6a1"/>
<rect x="135.58" y="532.5" width="1.65" height="9.7" fill="#48a6a1"/>
<rect x="128.5" y="518.4" width="15.8" height="14.6" rx="0.9" fill="#48a6a1"/>
<rect x="130.15" y="522.65" width="12.5" height="8.7" fill="#ffffff"/>
<rect x="178.98" y="523.2" width="1.65" height="2.6" fill="#dc2449"/>
<rect x="172" y="525.3" width="15.6" height="8.3" rx="0.9" fill="#dc2449"/>
<rect x="173.65" y="526.95" width="12.3" height="1.9" fill="#ffffff"/>
<rect x="206.28" y="521" width="1.65" height="3.1" fill="#dc2449"/>
<rect x="199.2" y="523.6" width="15.8" height="8.9" rx="0.9" fill="#dc2449"/>
<rect x="200.85" y="525.25" width="12.5" height="3.6" fill="#ffffff"/>
<rect x="233.83" y="525.7" width="1.65" height="1.5" fill="#dc2449"/>
<rect x="226.7" y="526.7" width="15.9" height="6.3" rx="0.9" fill="#dc2449"/>
<rect x="228.35" y="528.35" width="12.6" height="0.5" fill="#ffffff"/>
<rect x="261.43" y="518.4" width="1.65" height="7.8" fill="#dc2449"/>
<rect x="261.43" y="533.1" width="1.65" height="1.2" fill="#dc2449"/>
<rect x="254.3" y="525.7" width="15.9" height="7.9" rx="0.9" fill="#dc2449"/>
<rect x="255.95" y="527.35" width="12.6" height="2" fill="#ffffff"/>
<line x1="207" y1="442.9" x2="261.2" y2="442.9" stroke="#262626" stroke-width="1.75" stroke-linecap="butt"/>
<path d="M224.85 439.45L230.05 439.45M226.15 437.2L228.75 441.7M228.75 437.2L226.15 441.7" stroke="#2e2e2e" stroke-width="0.95" fill="none"/>
<path d="M230.15 439.45L235.35 439.45M231.45 437.2L234.05 441.7M234.05 437.2L231.45 441.7" stroke="#2e2e2e" stroke-width="0.95" fill="none"/>
<path d="M235.45 439.45L240.65 439.45M236.75 437.2L239.35 441.7M239.35 437.2L236.75 441.7" stroke="#2e2e2e" stroke-width="0.95" fill="none"/>
<line x1="207" y1="452.9" x2="235.4" y2="452.9" stroke="#262626" stroke-width="1.75" stroke-linecap="butt"/>
<path d="M212.5 448.7L217.7 448.7M213.8 446.45L216.4 450.95M216.4 446.45L213.8 450.95" stroke="#2e2e2e" stroke-width="0.95" fill="none"/>
<path d="M217.8 448.7L223 448.7M219.1 446.45L221.7 450.95M221.7 446.45L219.1 450.95" stroke="#2e2e2e" stroke-width="0.95" fill="none"/>
<path d="M223.1 448.7L228.3 448.7M224.4 446.45L227 450.95M227 446.45L224.4 450.95" stroke="#2e2e2e" stroke-width="0.95" fill="none"/>
<line x1="82" y1="505.8" x2="135.9" y2="505.8" stroke="#262626" stroke-width="1.75" stroke-linecap="butt"/>
<path d="M101.3 501.85L106.5 501.85M102.6 499.6L105.2 504.1M105.2 499.6L102.6 504.1" stroke="#2e2e2e" stroke-width="0.95" fill="none"/>
<path d="M106.6 501.85L111.8 501.85M107.9 499.6L110.5 504.1M110.5 499.6L107.9 504.1" stroke="#2e2e2e" stroke-width="0.95" fill="none"/>
<path d="M111.9 501.85L117.1 501.85M113.2 499.6L115.8 504.1M115.8 499.6L113.2 504.1" stroke="#2e2e2e" stroke-width="0.95" fill="none"/>
<line x1="83.2" y1="517" x2="107.8" y2="517" stroke="#262626" stroke-width="1.75" stroke-linecap="butt"/>
<path d="M87.5 513.5L92.7 513.5M88.8 511.25L91.4 515.75M91.4 511.25L88.8 515.75" stroke="#2e2e2e" stroke-width="0.95" fill="none"/>
<path d="M92.8 513.5L98 513.5M94.1 511.25L96.7 515.75M96.7 511.25L94.1 515.75" stroke="#2e2e2e" stroke-width="0.95" fill="none"/>
<path d="M98.1 513.5L103.3 513.5M99.4 511.25L102 515.75M102 511.25L99.4 515.75" stroke="#2e2e2e" stroke-width="0.95" fill="none"/>
<line x1="207" y1="508.1" x2="263" y2="508.1" stroke="#262626" stroke-width="1.75" stroke-linecap="butt"/>
<path d="M225.75 504.15L230.95 504.15M227.05 501.9L229.65 506.4M229.65 501.9L227.05 506.4" stroke="#2e2e2e" stroke-width="0.95" fill="none"/>
<path d="M231.05 504.15L236.25 504.15M232.35 501.9L234.95 506.4M234.95 501.9L232.35 506.4" stroke="#2e2e2e" stroke-width="0.95" fill="none"/>
<path d="M236.35 504.15L241.55 504.15M237.65 501.9L240.25 506.4M240.25 501.9L237.65 506.4" stroke="#2e2e2e" stroke-width="0.95" fill="none"/>
<line x1="207" y1="518.7" x2="233.6" y2="518.7" stroke="#262626" stroke-width="1.75" stroke-linecap="butt"/>
<rect x="46.2" y="623.75" width="111.6" height="39.25" fill="#f5f5f5"/>
<rect x="168" y="623.75" width="111.25" height="39.25" fill="#f5f5f5"/>
<rect x="46.2" y="673" width="111.6" height="39" fill="#f5f5f5"/>
<rect x="168" y="673" width="111.25" height="39" fill="#f5f5f5"/>
<text x="37" y="636.2" font-size="11.3" fill="#444" text-anchor="end">n</text>
<text x="37" y="648.4" font-size="11.3" fill="#444" text-anchor="end">median</text>
<text x="37" y="660.4" font-size="11.3" fill="#444" text-anchor="end">mad</text>
<text x="37" y="685.5" font-size="11.3" fill="#444" text-anchor="end">n</text>
<text x="37" y="697.8" font-size="11.3" fill="#444" text-anchor="end">median</text>
<text x="37" y="709.8" font-size="11.3" fill="#444" text-anchor="end">mad</text>
<text x="115.29" y="633" font-size="11" fill="#48a6a1" text-anchor="middle">73</text>
<text x="141.86" y="633" font-size="11" fill="#48a6a1" text-anchor="middle">115</text>
<text x="115.29" y="648" font-size="11" fill="#48a6a1" text-anchor="middle">10</text>
<text x="141.86" y="648" font-size="11" fill="#48a6a1" text-anchor="middle">20</text>
<text x="115.29" y="663" font-size="11" fill="#48a6a1" text-anchor="middle">7</text>
<text x="141.86" y="663" font-size="11" fill="#48a6a1" text-anchor="middle">17</text>
<text x="62.14" y="682" font-size="11" fill="#48a6a1" text-anchor="middle">399</text>
<text x="88.71" y="682" font-size="11" fill="#48a6a1" text-anchor="middle">269</text>
<text x="115.29" y="682" font-size="11" fill="#48a6a1" text-anchor="middle">235</text>
<text x="141.86" y="682" font-size="11" fill="#48a6a1" text-anchor="middle">305</text>
<text x="62.14" y="697" font-size="11" fill="#48a6a1" text-anchor="middle">21</text>
<text x="88.71" y="697" font-size="11" fill="#48a6a1" text-anchor="middle">23</text>
<text x="115.29" y="697" font-size="11" fill="#48a6a1" text-anchor="middle">14</text>
<text x="141.86" y="697" font-size="11" fill="#48a6a1" text-anchor="middle">39</text>
<text x="62.14" y="712" font-size="11" fill="#48a6a1" text-anchor="middle">4</text>
<text x="88.71" y="712" font-size="11" fill="#48a6a1" text-anchor="middle">11</text>
<text x="115.29" y="712" font-size="11" fill="#48a6a1" text-anchor="middle">6</text>
<text x="141.86" y="712" font-size="11" fill="#48a6a1" text-anchor="middle">13</text>
<text x="210.38" y="633" font-size="11" fill="#dc2449" text-anchor="middle">117</text>
<text x="236.87" y="633" font-size="11" fill="#dc2449" text-anchor="middle">323</text>
<text x="263.36" y="633" font-size="11" fill="#dc2449" text-anchor="middle">642</text>
<text x="210.38" y="648" font-size="11" fill="#dc2449" text-anchor="middle">26</text>
<text x="236.87" y="648" font-size="11" fill="#dc2449" text-anchor="middle">14</text>
<text x="263.36" y="648" font-size="11" fill="#dc2449" text-anchor="middle">0</text>
<text x="210.38" y="663" font-size="11" fill="#dc2449" text-anchor="middle">1</text>
<text x="236.87" y="663" font-size="11" fill="#dc2449" text-anchor="middle">19</text>
<text x="263.36" y="663" font-size="11" fill="#dc2449" text-anchor="middle">6</text>
<text x="183.89" y="682" font-size="11" fill="#dc2449" text-anchor="middle">287</text>
<text x="210.38" y="682" font-size="11" fill="#dc2449" text-anchor="middle">606</text>
<text x="236.87" y="682" font-size="11" fill="#dc2449" text-anchor="middle">117</text>
<text x="263.36" y="682" font-size="11" fill="#dc2449" text-anchor="middle">35</text>
<text x="183.89" y="697" font-size="11" fill="#dc2449" text-anchor="middle">22</text>
<text x="210.38" y="697" font-size="11" fill="#dc2449" text-anchor="middle">21</text>
<text x="236.87" y="697" font-size="11" fill="#dc2449" text-anchor="middle">20</text>
<text x="263.36" y="697" font-size="11" fill="#dc2449" text-anchor="middle">19</text>
<text x="183.89" y="712" font-size="11" fill="#dc2449" text-anchor="middle">8</text>
<text x="210.38" y="712" font-size="11" fill="#dc2449" text-anchor="middle">2</text>
<text x="236.87" y="712" font-size="11" fill="#dc2449" text-anchor="middle">4</text>
<text x="263.36" y="712" font-size="11" fill="#dc2449" text-anchor="middle">1</text>
<text x="286.6" y="643.38" font-size="11" fill="#2b2b2b" text-anchor="middle" transform="rotate(90 286.6 643.38)">quiesc</text>
<text x="286.6" y="692.5" font-size="11" fill="#2b2b2b" text-anchor="middle" transform="rotate(90 286.6 692.5)">SSO</text>
<text x="405.2" y="397.8" font-size="13" fill="#111" text-anchor="start">d</text>
<circle cx="470" cy="394.5" r="3.15" fill="none" stroke="#111" stroke-width="2.1"/>
<line x1="471.29" y1="391.63" x2="473.16" y2="387.49" stroke="#111" stroke-width="2.3" stroke-linecap="butt"/>
<polygon points="474.35,384.85 476.11,389.7 469.55,386.74" fill="#111" stroke="#111" stroke-width="0.7" stroke-linejoin="round"/>
<text x="528.4" y="396.2" font-size="12.9" fill="#111" text-anchor="start">Q-factor</text>
<text x="490.5" y="428" font-size="11" fill="#2b2b2b" text-anchor="middle">ZT4</text>
<text x="611.7" y="428" font-size="11" fill="#2b2b2b" text-anchor="middle">ZT12</text>
<text x="676.3" y="463.55" font-size="11" fill="#2b2b2b" text-anchor="middle" transform="rotate(90 676.3 463.55)">quiesc</text>
<text x="676.3" y="528.7" font-size="11" fill="#2b2b2b" text-anchor="middle" transform="rotate(90 676.3 528.7)">SSO</text>
<rect x="436.8" y="436.3" width="110.2" height="54.5" fill="#f5f5f5"/>
<rect x="557" y="436.3" width="111" height="54.5" fill="#f5f5f5"/>
<rect x="436.8" y="501.6" width="110.2" height="54.2" fill="#f5f5f5"/>
<rect x="557" y="501.6" width="111" height="54.2" fill="#f5f5f5"/>
<line x1="435.6" y1="436.3" x2="435.6" y2="490.8" stroke="#000" stroke-width="2" stroke-linecap="butt"/>
<line x1="429.8" y1="438.5" x2="435.6" y2="438.5" stroke="#000" stroke-width="3.1" stroke-linecap="butt"/>
<text x="426.4" y="443.1" font-size="11" fill="#555555" text-anchor="end">30.0</text>
<line x1="429.8" y1="450.9" x2="435.6" y2="450.9" stroke="#000" stroke-width="3.1" stroke-linecap="butt"/>
<text x="426.4" y="455.5" font-size="11" fill="#555555" text-anchor="end">10.0</text>
<line x1="429.8" y1="463.3" x2="435.6" y2="463.3" stroke="#000" stroke-width="3.1" stroke-linecap="butt"/>
<text x="426.4" y="467.9" font-size="11" fill="#555555" text-anchor="end">3.0</text>
<line x1="429.8" y1="475.8" x2="435.6" y2="475.8" stroke="#000" stroke-width="3.1" stroke-linecap="butt"/>
<text x="426.4" y="480.4" font-size="11" fill="#555555" text-anchor="end">1.0</text>
<line x1="429.8" y1="488.6" x2="435.6" y2="488.6" stroke="#000" stroke-width="3.1" stroke-linecap="butt"/>
<text x="426.4" y="493.2" font-size="11" fill="#555555" text-anchor="end">0.3</text>
<line x1="435.6" y1="501.6" x2="435.6" y2="555.3" stroke="#000" stroke-width="2" stroke-linecap="butt"/>
<line x1="435.6" y1="554.8" x2="435.6" y2="555.8" stroke="#000" stroke-width="2" stroke-linecap="round"/>
<line x1="429.8" y1="503.9" x2="435.6" y2="503.9" stroke="#000" stroke-width="3.1" stroke-linecap="butt"/>
<text x="426.4" y="508.5" font-size="11" fill="#555555" text-anchor="end">30.0</text>
<line x1="429.8" y1="516.3" x2="435.6" y2="516.3" stroke="#000" stroke-width="3.1" stroke-linecap="butt"/>
<text x="426.4" y="520.9" font-size="11" fill="#555555" text-anchor="end">10.0</text>
<line x1="429.8" y1="528.7" x2="435.6" y2="528.7" stroke="#000" stroke-width="3.1" stroke-linecap="butt"/>
<text x="426.4" y="533.3" font-size="11" fill="#555555" text-anchor="end">3.0</text>
<line x1="429.8" y1="541.1" x2="435.6" y2="541.1" stroke="#000" stroke-width="3.1" stroke-linecap="butt"/>
<text x="426.4" y="545.7" font-size="11" fill="#555555" text-anchor="end">1.0</text>
<line x1="429.8" y1="553.5" x2="435.6" y2="553.5" stroke="#000" stroke-width="3.1" stroke-linecap="butt"/>
<text x="426.4" y="558.1" font-size="11" fill="#555555" text-anchor="end">0.3</text>
<line x1="436.1" y1="555.8" x2="547" y2="555.8" stroke="#000" stroke-width="2" stroke-linecap="butt"/>
<line x1="435.6" y1="555.8" x2="436.6" y2="555.8" stroke="#000" stroke-width="2" stroke-linecap="round"/>
<line x1="451.51" y1="555.8" x2="451.51" y2="560.6" stroke="#000" stroke-width="3.1" stroke-linecap="butt"/>
<line x1="478.04" y1="555.8" x2="478.04" y2="560.6" stroke="#000" stroke-width="3.1" stroke-linecap="butt"/>
<line x1="504.56" y1="555.8" x2="504.56" y2="560.6" stroke="#000" stroke-width="3.1" stroke-linecap="butt"/>
<line x1="531.09" y1="555.8" x2="531.09" y2="560.6" stroke="#000" stroke-width="3.1" stroke-linecap="butt"/>
<text x="454.51" y="574" font-size="11.2" fill="#555555" text-anchor="end" transform="rotate(-19.5 454.51 574)">baseline</text>
<text x="481.04" y="574" font-size="11.2" fill="#555555" text-anchor="end" transform="rotate(-19.5 481.04 574)">control</text>
<text x="507.56" y="574" font-size="11.2" fill="#555555" text-anchor="end" transform="rotate(-19.5 507.56 574)">1mM OA</text>
<text x="534.09" y="574" font-size="11.2" fill="#555555" text-anchor="end" transform="rotate(-19.5 534.09 574)">10mM OA</text>
<line x1="557" y1="555.8" x2="668" y2="555.8" stroke="#000" stroke-width="2" stroke-linecap="butt"/>
<line x1="572.86" y1="555.8" x2="572.86" y2="560.6" stroke="#000" stroke-width="3.1" stroke-linecap="butt"/>
<line x1="599.29" y1="555.8" x2="599.29" y2="560.6" stroke="#000" stroke-width="3.1" stroke-linecap="butt"/>
<line x1="625.71" y1="555.8" x2="625.71" y2="560.6" stroke="#000" stroke-width="3.1" stroke-linecap="butt"/>
<line x1="652.14" y1="555.8" x2="652.14" y2="560.6" stroke="#000" stroke-width="3.1" stroke-linecap="butt"/>
<text x="575.86" y="574" font-size="11.2" fill="#555555" text-anchor="end" transform="rotate(-19.5 575.86 574)">baseline</text>
<text x="602.29" y="574" font-size="11.2" fill="#555555" text-anchor="end" transform="rotate(-19.5 602.29 574)">control</text>
<text x="628.71" y="574" font-size="11.2" fill="#555555" text-anchor="end" transform="rotate(-19.5 628.71 574)">1mM OA</text>
<text x="655.14" y="574" font-size="11.2" fill="#555555" text-anchor="end" transform="rotate(-19.5 655.14 574)">10mM OA</text>
<rect x="503.45" y="459.7" width="1.8" height="4.1" fill="#48a6a1"/>
<rect x="495.5" y="463.3" width="17.7" height="6.4" rx="0.9" fill="#48a6a1"/>
<rect x="497.3" y="465.1" width="14.1" height="1.1" fill="#ffffff"/>
<rect x="530.1" y="457" width="1.8" height="6.8" fill="#48a6a1"/>
<rect x="530.1" y="470.3" width="1.8" height="8" fill="#48a6a1"/>
<rect x="521.8" y="463.3" width="18.4" height="7.5" rx="0.9" fill="#48a6a1"/>
<rect x="523.6" y="465.1" width="14.8" height="1.2" fill="#ffffff"/>
<rect x="590.2" y="463.8" width="17.8" height="3.2" rx="0.9" fill="#dc2449"/>
<rect x="624.65" y="439.7" width="1.8" height="11.6" fill="#dc2449"/>
<rect x="624.65" y="470.3" width="1.8" height="17.7" fill="#dc2449"/>
<rect x="616.8" y="450.8" width="17.5" height="20" rx="0.9" fill="#dc2449"/>
<rect x="618.6" y="452.6" width="13.9" height="11.8" fill="#ffffff"/>
<rect x="618.6" y="468" width="13.9" height="1" fill="#ffffff"/>
<rect x="650.95" y="459.2" width="1.8" height="8.8" fill="#dc2449"/>
<rect x="650.95" y="476.2" width="1.8" height="10.5" fill="#dc2449"/>
<rect x="643" y="467.5" width="17.7" height="9.2" rx="0.9" fill="#dc2449"/>
<rect x="644.8" y="469.3" width="14.1" height="2.7" fill="#ffffff"/>
<rect x="450.7" y="530.5" width="1.8" height="1.8" fill="#48a6a1"/>
<rect x="442.7" y="527.3" width="17.8" height="3.7" rx="0.9" fill="#48a6a1"/>
<rect x="477" y="531.3" width="1.8" height="1.4" fill="#48a6a1"/>
<rect x="469" y="526.8" width="17.8" height="5" rx="0.9" fill="#48a6a1"/>
<rect x="503.35" y="515.2" width="1.8" height="6.6" fill="#48a6a1"/>
<rect x="503.35" y="529.7" width="1.8" height="10" fill="#48a6a1"/>
<rect x="495.5" y="521.3" width="17.5" height="8.9" rx="0.9" fill="#48a6a1"/>
<rect x="497.3" y="523.1" width="13.9" height="1.3" fill="#ffffff"/>
<rect x="497.3" y="528" width="13.9" height="0.4" fill="#ffffff"/>
<rect x="521.8" y="527.3" width="18.4" height="3.7" rx="0.9" fill="#48a6a1"/>
<rect x="564" y="526.5" width="17.8" height="4.5" rx="0.9" fill="#dc2449"/>
<rect x="598.15" y="531.3" width="1.8" height="1.4" fill="#dc2449"/>
<rect x="590.1" y="527.3" width="17.9" height="4.5" rx="0.9" fill="#dc2449"/>
<rect x="624.65" y="526.3" width="1.8" height="1.9" fill="#dc2449"/>
<rect x="624.65" y="533.5" width="1.8" height="1.7" fill="#dc2449"/>
<rect x="616.8" y="527.7" width="17.5" height="6.3" rx="0.9" fill="#dc2449"/>
<rect x="618.6" y="530.3" width="13.9" height="1.9" fill="#ffffff"/>
<rect x="650.95" y="531.3" width="1.8" height="1.7" fill="#dc2449"/>
<rect x="643" y="528" width="17.7" height="3.8" rx="0.9" fill="#dc2449"/>
<line x1="597.7" y1="438.7" x2="651" y2="438.7" stroke="#262626" stroke-width="1.75" stroke-linecap="butt"/>
<path d="M615.05 435.25L620.25 435.25M616.35 433L618.95 437.5M618.95 433L616.35 437.5" stroke="#2e2e2e" stroke-width="0.95" fill="none"/>
<path d="M620.35 435.25L625.55 435.25M621.65 433L624.25 437.5M624.25 433L621.65 437.5" stroke="#2e2e2e" stroke-width="0.95" fill="none"/>
<path d="M625.65 435.25L630.85 435.25M626.95 433L629.55 437.5M629.55 433L626.95 437.5" stroke="#2e2e2e" stroke-width="0.95" fill="none"/>
<line x1="596" y1="452.2" x2="614.7" y2="452.2" stroke="#262626" stroke-width="1.75" stroke-linecap="butt"/>
<path d="M596 448.3L601.2 448.3M597.3 446.05L599.9 450.55M599.9 446.05L597.3 450.55" stroke="#2e2e2e" stroke-width="0.95" fill="none"/>
<path d="M601.3 448.3L606.5 448.3M602.6 446.05L605.2 450.55M605.2 446.05L602.6 450.55" stroke="#2e2e2e" stroke-width="0.95" fill="none"/>
<path d="M606.6 448.3L611.8 448.3M607.9 446.05L610.5 450.55M610.5 446.05L607.9 450.55" stroke="#2e2e2e" stroke-width="0.95" fill="none"/>
<line x1="477.3" y1="511.5" x2="505.2" y2="511.5" stroke="#262626" stroke-width="1.75" stroke-linecap="butt"/>
<path d="M482.85 508.75L488.05 508.75M484.15 506.5L486.75 511M486.75 506.5L484.15 511" stroke="#2e2e2e" stroke-width="0.95" fill="none"/>
<path d="M488.15 508.75L493.35 508.75M489.45 506.5L492.05 511M492.05 506.5L489.45 511" stroke="#2e2e2e" stroke-width="0.95" fill="none"/>
<path d="M493.45 508.75L498.65 508.75M494.75 506.5L497.35 511M497.35 506.5L494.75 511" stroke="#2e2e2e" stroke-width="0.95" fill="none"/>
<line x1="597.7" y1="513.2" x2="624" y2="513.2" stroke="#262626" stroke-width="1.75" stroke-linecap="butt"/>
<path d="M603.1 510.15L608.3 510.15M604.4 507.9L607 512.4M607 507.9L604.4 512.4" stroke="#2e2e2e" stroke-width="0.95" fill="none"/>
<path d="M608.4 510.15L613.6 510.15M609.7 507.9L612.3 512.4M612.3 507.9L609.7 512.4" stroke="#2e2e2e" stroke-width="0.95" fill="none"/>
<path d="M613.7 510.15L618.9 510.15M615 507.9L617.6 512.4M617.6 507.9L615 512.4" stroke="#2e2e2e" stroke-width="0.95" fill="none"/>
<rect x="435.5" y="623.75" width="111.5" height="39.25" fill="#f5f5f5"/>
<rect x="557" y="623.75" width="111.25" height="39.25" fill="#f5f5f5"/>
<rect x="435.5" y="673" width="111.5" height="39.5" fill="#f5f5f5"/>
<rect x="557" y="673" width="111.25" height="39.5" fill="#f5f5f5"/>
<text x="425.5" y="636.2" font-size="11.3" fill="#444" text-anchor="end">n</text>
<text x="425.5" y="648.4" font-size="11.3" fill="#444" text-anchor="end">median</text>
<text x="425.5" y="660.4" font-size="11.3" fill="#444" text-anchor="end">mad</text>
<text x="425.5" y="685.5" font-size="11.3" fill="#444" text-anchor="end">n</text>
<text x="425.5" y="697.8" font-size="11.3" fill="#444" text-anchor="end">median</text>
<text x="425.5" y="709.8" font-size="11.3" fill="#444" text-anchor="end">mad</text>
<text x="504.52" y="633" font-size="11" fill="#48a6a1" text-anchor="middle">73</text>
<text x="531.07" y="633" font-size="11" fill="#48a6a1" text-anchor="middle">115</text>
<text x="504.52" y="648" font-size="11" fill="#48a6a1" text-anchor="middle">2.1</text>
<text x="531.07" y="648" font-size="11" fill="#48a6a1" text-anchor="middle">2</text>
<text x="504.52" y="663" font-size="11" fill="#48a6a1" text-anchor="middle">0.9</text>
<text x="531.07" y="663" font-size="11" fill="#48a6a1" text-anchor="middle">0.9</text>
<text x="451.43" y="682" font-size="11" fill="#48a6a1" text-anchor="middle">399</text>
<text x="477.98" y="682" font-size="11" fill="#48a6a1" text-anchor="middle">269</text>
<text x="504.52" y="682" font-size="11" fill="#48a6a1" text-anchor="middle">235</text>
<text x="531.07" y="682" font-size="11" fill="#48a6a1" text-anchor="middle">305</text>
<text x="451.43" y="697" font-size="11" fill="#48a6a1" text-anchor="middle">3</text>
<text x="477.98" y="697" font-size="11" fill="#48a6a1" text-anchor="middle">2.9</text>
<text x="504.52" y="697" font-size="11" fill="#48a6a1" text-anchor="middle">4.1</text>
<text x="531.07" y="697" font-size="11" fill="#48a6a1" text-anchor="middle">3</text>
<text x="451.43" y="712" font-size="11" fill="#48a6a1" text-anchor="middle">0.4</text>
<text x="477.98" y="712" font-size="11" fill="#48a6a1" text-anchor="middle">0.7</text>
<text x="504.52" y="712" font-size="11" fill="#48a6a1" text-anchor="middle">1.9</text>
<text x="531.07" y="712" font-size="11" fill="#48a6a1" text-anchor="middle">0.2</text>
<text x="599.38" y="633" font-size="11" fill="#dc2449" text-anchor="middle">117</text>
<text x="625.87" y="633" font-size="11" fill="#dc2449" text-anchor="middle">323</text>
<text x="652.36" y="633" font-size="11" fill="#dc2449" text-anchor="middle">642</text>
<text x="599.38" y="648" font-size="11" fill="#dc2449" text-anchor="middle">2.6</text>
<text x="625.87" y="648" font-size="11" fill="#dc2449" text-anchor="middle">2.3</text>
<text x="652.36" y="648" font-size="11" fill="#dc2449" text-anchor="middle">1.1</text>
<text x="599.38" y="663" font-size="11" fill="#dc2449" text-anchor="middle">0.1</text>
<text x="625.87" y="663" font-size="11" fill="#dc2449" text-anchor="middle">1.1</text>
<text x="652.36" y="663" font-size="11" fill="#dc2449" text-anchor="middle">0.5</text>
<text x="572.89" y="682" font-size="11" fill="#dc2449" text-anchor="middle">287</text>
<text x="599.38" y="682" font-size="11" fill="#dc2449" text-anchor="middle">606</text>
<text x="625.87" y="682" font-size="11" fill="#dc2449" text-anchor="middle">117</text>
<text x="652.36" y="682" font-size="11" fill="#dc2449" text-anchor="middle">35</text>
<text x="572.89" y="697" font-size="11" fill="#dc2449" text-anchor="middle">2.9</text>
<text x="599.38" y="697" font-size="11" fill="#dc2449" text-anchor="middle">2.9</text>
<text x="625.87" y="697" font-size="11" fill="#dc2449" text-anchor="middle">2.8</text>
<text x="652.36" y="697" font-size="11" fill="#dc2449" text-anchor="middle">2.7</text>
<text x="572.89" y="712" font-size="11" fill="#dc2449" text-anchor="middle">0.6</text>
<text x="599.38" y="712" font-size="11" fill="#dc2449" text-anchor="middle">0.4</text>
<text x="625.87" y="712" font-size="11" fill="#dc2449" text-anchor="middle">0.5</text>
<text x="652.36" y="712" font-size="11" fill="#dc2449" text-anchor="middle">0.1</text>
<text x="676.3" y="643.38" font-size="11" fill="#2b2b2b" text-anchor="middle" transform="rotate(90 676.3 643.38)">quiesc</text>
<text x="676.3" y="692.75" font-size="11" fill="#2b2b2b" text-anchor="middle" transform="rotate(90 676.3 692.75)">SSO</text>
<text x="7" y="753.4" font-size="13" fill="#111" text-anchor="start">e</text>
<circle cx="68.2" cy="750.7" r="3.15" fill="none" stroke="#111" stroke-width="2.1"/>
<line x1="69.82" y1="748" x2="72.2" y2="744" stroke="#111" stroke-width="2.3" stroke-linecap="butt"/>
<polygon points="73.69,741.51 74.88,746.54 68.7,742.84" fill="#111" stroke="#111" stroke-width="0.7" stroke-linejoin="round"/>
<text x="115.6" y="753" font-size="12.9" fill="#111" text-anchor="start">Steady-state stiffness</text>
<text x="111.1" y="784.6" font-size="11" fill="#2b2b2b" text-anchor="middle">ZT4</text>
<text x="244" y="784.4" font-size="11" fill="#2b2b2b" text-anchor="middle">ZT12</text>
<rect x="51.2" y="793.3" width="121.4" height="63.7" fill="#f5f5f5"/>
<rect x="183" y="793.3" width="123.4" height="63.7" fill="#f5f5f5"/>
<line x1="50" y1="793.3" x2="50" y2="856.5" stroke="#000" stroke-width="2" stroke-linecap="butt"/>
<line x1="50" y1="856" x2="50" y2="857" stroke="#000" stroke-width="2" stroke-linecap="round"/>
<line x1="44.2" y1="797.4" x2="50" y2="797.4" stroke="#000" stroke-width="3.1" stroke-linecap="butt"/>
<text x="40.2" y="802" font-size="11" fill="#555555" text-anchor="end">3000</text>
<line x1="44.2" y1="817.1" x2="50" y2="817.1" stroke="#000" stroke-width="3.1" stroke-linecap="butt"/>
<text x="40.2" y="821.7" font-size="11" fill="#555555" text-anchor="end">2000</text>
<line x1="44.2" y1="836.9" x2="50" y2="836.9" stroke="#000" stroke-width="3.1" stroke-linecap="butt"/>
<text x="40.2" y="841.5" font-size="11" fill="#555555" text-anchor="end">1000</text>
<line x1="44.2" y1="856.6" x2="50" y2="856.6" stroke="#000" stroke-width="3.1" stroke-linecap="butt"/>
<text x="40.2" y="861.2" font-size="11" fill="#555555" text-anchor="end">0</text>
<line x1="50.5" y1="857" x2="172.6" y2="857" stroke="#000" stroke-width="2" stroke-linecap="butt"/>
<line x1="50" y1="857" x2="51" y2="857" stroke="#000" stroke-width="2" stroke-linecap="round"/>
<line x1="67.51" y1="857" x2="67.51" y2="861.8" stroke="#000" stroke-width="3.1" stroke-linecap="butt"/>
<line x1="96.7" y1="857" x2="96.7" y2="861.8" stroke="#000" stroke-width="3.1" stroke-linecap="butt"/>
<line x1="125.9" y1="857" x2="125.9" y2="861.8" stroke="#000" stroke-width="3.1" stroke-linecap="butt"/>
<line x1="155.09" y1="857" x2="155.09" y2="861.8" stroke="#000" stroke-width="3.1" stroke-linecap="butt"/>
<text x="70.51" y="875.2" font-size="11.2" fill="#555555" text-anchor="end" transform="rotate(-19.5 70.51 875.2)">baseline</text>
<text x="99.7" y="875.2" font-size="11.2" fill="#555555" text-anchor="end" transform="rotate(-19.5 99.7 875.2)">control</text>
<text x="128.9" y="875.2" font-size="11.2" fill="#555555" text-anchor="end" transform="rotate(-19.5 128.9 875.2)">OA1mM</text>
<text x="158.09" y="875.2" font-size="11.2" fill="#555555" text-anchor="end" transform="rotate(-19.5 158.09 875.2)">OA10mM</text>
<line x1="183" y1="857" x2="306.4" y2="857" stroke="#000" stroke-width="2" stroke-linecap="butt"/>
<line x1="200.63" y1="857" x2="200.63" y2="861.8" stroke="#000" stroke-width="3.1" stroke-linecap="butt"/>
<line x1="230.01" y1="857" x2="230.01" y2="861.8" stroke="#000" stroke-width="3.1" stroke-linecap="butt"/>
<line x1="259.39" y1="857" x2="259.39" y2="861.8" stroke="#000" stroke-width="3.1" stroke-linecap="butt"/>
<line x1="288.77" y1="857" x2="288.77" y2="861.8" stroke="#000" stroke-width="3.1" stroke-linecap="butt"/>
<text x="203.63" y="875.2" font-size="11.2" fill="#555555" text-anchor="end" transform="rotate(-19.5 203.63 875.2)">baseline</text>
<text x="233.01" y="875.2" font-size="11.2" fill="#555555" text-anchor="end" transform="rotate(-19.5 233.01 875.2)">control</text>
<text x="262.39" y="875.2" font-size="11.2" fill="#555555" text-anchor="end" transform="rotate(-19.5 262.39 875.2)">OA1mM</text>
<text x="291.77" y="875.2" font-size="11.2" fill="#555555" text-anchor="end" transform="rotate(-19.5 291.77 875.2)">OA10mM</text>
<text x="8.9" y="825.5" font-size="11" fill="#000" text-anchor="middle" font-weight="bold" transform="rotate(-90 8.9 825.5)">µN/m</text>
<rect x="58.2" y="851.1" width="18.8" height="3.7" rx="0.9" fill="#48a6a1"/>
<rect x="87" y="850.2" width="19.2" height="4.6" rx="0.9" fill="#48a6a1"/>
<rect x="125.1" y="852.1" width="1.8" height="1.4" fill="#48a6a1"/>
<rect x="116.2" y="846.2" width="19.6" height="6.4" rx="0.9" fill="#48a6a1"/>
<rect x="118" y="848" width="16" height="0.9" fill="#ffffff"/>
<rect x="154.5" y="829.8" width="1.8" height="11.8" fill="#48a6a1"/>
<rect x="145.8" y="841.1" width="19.2" height="12.8" rx="0.9" fill="#48a6a1"/>
<rect x="147.6" y="842.9" width="15.6" height="5.4" fill="#ffffff"/>
<rect x="147.6" y="851.9" width="15.6" height="0.2" fill="#ffffff"/>
<rect x="191" y="851" width="19" height="3.4" rx="0.9" fill="#dc2449"/>
<rect x="220" y="850" width="19.4" height="4.4" rx="0.9" fill="#dc2449"/>
<rect x="258.1" y="843.6" width="1.8" height="1.3" fill="#dc2449"/>
<rect x="249.4" y="844.4" width="19.2" height="8" rx="0.9" fill="#dc2449"/>
<rect x="251.2" y="846.2" width="15.6" height="0.8" fill="#ffffff"/>
<rect x="287.4" y="796" width="1.8" height="26.9" fill="#dc2449"/>
<rect x="287.4" y="841.1" width="1.8" height="7.9" fill="#dc2449"/>
<rect x="278.6" y="822.4" width="19.4" height="19.2" rx="0.9" fill="#dc2449"/>
<rect x="280.4" y="824.2" width="15.8" height="5.8" fill="#ffffff"/>
<rect x="280.4" y="833.6" width="15.8" height="6.2" fill="#ffffff"/>
<line x1="227" y1="803" x2="287" y2="803" stroke="#262626" stroke-width="1.75" stroke-linecap="butt"/>
<path d="M254.1 798.8L259.3 798.8M255.4 796.55L258 801.05M258 796.55L255.4 801.05" stroke="#2e2e2e" stroke-width="0.95" fill="none"/>
<rect x="46.2" y="934.5" width="125.8" height="61" fill="#f5f5f5"/>
<rect x="181.4" y="934.5" width="125" height="61" fill="#f5f5f5"/>
<text x="37" y="956.3" font-size="11.3" fill="#444" text-anchor="end">n</text>
<text x="37" y="968.8" font-size="11.3" fill="#444" text-anchor="end">median</text>
<text x="37" y="981.3" font-size="11.3" fill="#444" text-anchor="end">mad</text>
<text x="64.17" y="954" font-size="11" fill="#48a6a1" text-anchor="middle">30</text>
<text x="94.12" y="954" font-size="11" fill="#48a6a1" text-anchor="middle">10</text>
<text x="124.08" y="954" font-size="11" fill="#48a6a1" text-anchor="middle">12</text>
<text x="154.03" y="954" font-size="11" fill="#48a6a1" text-anchor="middle">10</text>
<text x="64.17" y="969.3" font-size="11" fill="#48a6a1" text-anchor="middle">173</text>
<text x="94.12" y="969.3" font-size="11" fill="#48a6a1" text-anchor="middle">182</text>
<text x="124.08" y="969.3" font-size="11" fill="#48a6a1" text-anchor="middle">332</text>
<text x="154.03" y="969.3" font-size="11" fill="#48a6a1" text-anchor="middle">329</text>
<text x="64.17" y="984.5" font-size="11" fill="#48a6a1" text-anchor="middle">36</text>
<text x="94.12" y="984.5" font-size="11" fill="#48a6a1" text-anchor="middle">88</text>
<text x="124.08" y="984.5" font-size="11" fill="#48a6a1" text-anchor="middle">196</text>
<text x="154.03" y="984.5" font-size="11" fill="#48a6a1" text-anchor="middle">219</text>
<text x="199.26" y="954" font-size="11" fill="#dc2449" text-anchor="middle">29</text>
<text x="229.02" y="954" font-size="11" fill="#dc2449" text-anchor="middle">10</text>
<text x="258.78" y="954" font-size="11" fill="#dc2449" text-anchor="middle">8</text>
<text x="288.54" y="954" font-size="11" fill="#dc2449" text-anchor="middle">12</text>
<text x="199.26" y="969.3" font-size="11" fill="#dc2449" text-anchor="middle">185</text>
<text x="229.02" y="969.3" font-size="11" fill="#dc2449" text-anchor="middle">195</text>
<text x="258.78" y="969.3" font-size="11" fill="#dc2449" text-anchor="middle">396</text>
<text x="288.54" y="969.3" font-size="11" fill="#dc2449" text-anchor="middle">1258</text>
<text x="199.26" y="984.5" font-size="11" fill="#dc2449" text-anchor="middle">35</text>
<text x="229.02" y="984.5" font-size="11" fill="#dc2449" text-anchor="middle">66</text>
<text x="258.78" y="984.5" font-size="11" fill="#dc2449" text-anchor="middle">280</text>
<text x="288.54" y="984.5" font-size="11" fill="#dc2449" text-anchor="middle">683</text>
</svg>
</body></html>
